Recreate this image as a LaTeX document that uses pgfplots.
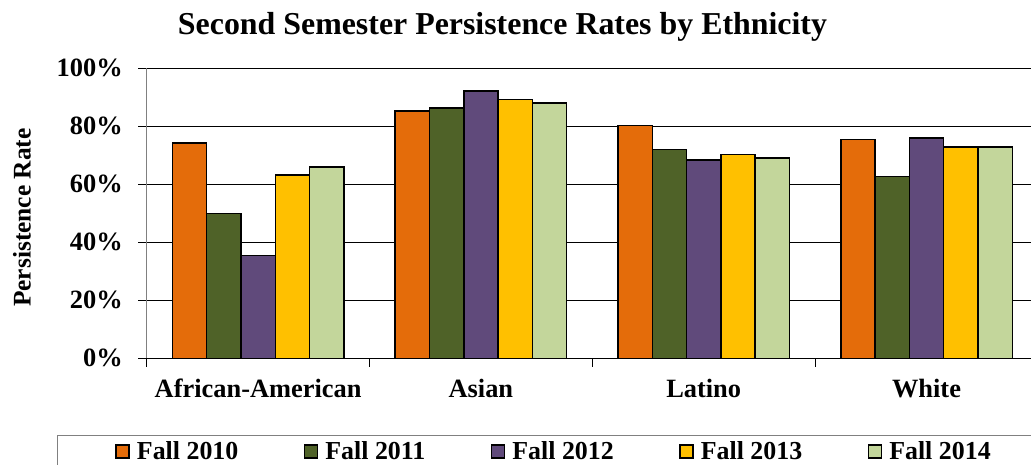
\documentclass[border=0pt]{standalone}
\usepackage{pgfplots}
\pgfplotsset{compat=1.18}
\usepackage{fontspec}
\setmainfont{Liberation Serif}

\definecolor{c2010}{HTML}{E46C0A}
\definecolor{c2011}{HTML}{4F6228}
\definecolor{c2012}{HTML}{604A7B}
\definecolor{c2013}{HTML}{FFC000}
\definecolor{c2014}{HTML}{C3D69B}
\definecolor{axgray}{HTML}{808080}

\begin{document}
\begin{tikzpicture}[x=1bp,y=1bp]
\useasboundingbox (0,0) rectangle (1031,465);
\clip (0,0) rectangle (1031,465);

\begin{axis}[
    at={(146.7bp,106.7bp)}, anchor=south west,
    scale only axis,
    width=891.2bp, height=290bp,
    ybar=0pt, bar width=34.3bp,
    xmin=-0.5, xmax=3.5,
    ymin=0, ymax=100,
    clip=false,
    axis x line*=bottom, axis y line*=left,
    x axis line style={black, line width=0.8bp, -},
    y axis line style={axgray, line width=1.2bp, -},
    tick align=outside,
    major tick length=8.5bp,
    xtick={0,1,2,3},
    xticklabels={African-American, Asian, Latino, White},
    major x tick style={draw=none},
    extra x ticks={-0.5,0.5,1.5,2.5,3.5},
    extra x tick labels={},
    extra x tick style={major x tick style={draw=black, line width=0.8bp}},
    ytick={0,20,40,60,80,100},
    yticklabels={0\%,20\%,40\%,60\%,80\%,100\%},
    y tick style={black, line width=0.8bp},
    ymajorgrids,
    major grid style={black, line width=0.8bp},
    ticklabel style={font=\fontsize{26.5}{28}\selectfont\bfseries},
    xticklabel style={yshift=-9bp},
    yticklabel style={xshift=-12bp},
    ylabel={Persistence Rate},
    ylabel style={font=\fontsize{25.5}{28}\selectfont\bfseries, at={(axis description cs:-0.14,0.485)}, anchor=center},
    every axis plot/.append style={draw=black, line width=1.5bp},
    legend columns=5,
    legend style={
        at={(axis description cs:-0.1007,-0.2645)}, anchor=north west,
        draw=axgray, line width=1bp,
        font=\fontsize{26}{28}\selectfont\bfseries,
        inner xsep=58bp, inner ysep=4.5bp,
        /tikz/every odd column/.append style={column sep=5bp},
        /tikz/every even column/.append style={column sep=63.5bp},
    },
    legend image code/.code={
        \draw[#1, line width=1.5bp] (0bp,-6.5bp) rectangle (13bp,6.5bp);
    },
]
\addplot[fill=c2010] coordinates {(0,74.2) (1,85.3) (2,80.2) (3,75.5)};
\addplot[fill=c2011] coordinates {(0,49.9) (1,86.3) (2,72.0) (3,62.6)};
\addplot[fill=c2012] coordinates {(0,35.5) (1,92.2) (2,68.4) (3,76.0)};
\addplot[fill=c2013] coordinates {(0,63.2) (1,89.2) (2,70.2) (3,72.9)};
\addplot[fill=c2014] coordinates {(0,66.0) (1,88.0) (2,69.0) (3,72.9)};
\legend{Fall 2010, Fall 2011, Fall 2012, Fall 2013, Fall 2014}
\end{axis}

\node[font=\fontsize{32}{35}\selectfont\bfseries] at (502.5,438) {Second Semester Persistence Rates by Ethnicity};
\end{tikzpicture}
\end{document}
